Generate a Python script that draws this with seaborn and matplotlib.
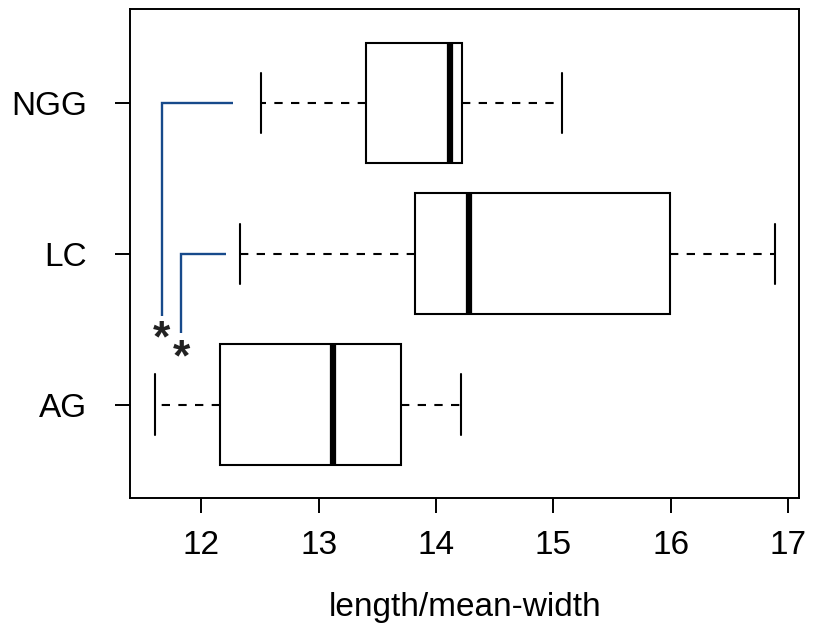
import matplotlib
matplotlib.use("Agg")
import matplotlib.pyplot as plt
import seaborn as sns
import pandas as pd

# Five-number summaries (min, Q1, median, Q3, max)
categories = ["NGG", "LC", "AG"]
ngg_values = [12.51, 13.40, 14.12, 14.22, 15.07]
lc_values = [12.33, 13.82, 14.28, 15.99, 16.89]
ag_values = [11.61, 12.16, 13.12, 13.70, 14.21]
x_ticks = [12, 13, 14, 15, 16, 17]
x_label = "length/mean-width"

# significance brackets
bracket_groups = ["NGG", "LC"]
bracket_x_start = [12.27, 12.21]
bracket_x_vert = [11.665, 11.83]
bracket_y_end = [1.41, 1.525]
star_y = [1.645, 1.775]
star_labels = ["*", "*"]

sns.set_theme(style="white")
plt.rcParams["font.family"] = ["Liberation Sans", "DejaVu Sans"]
plt.rcParams["text.color"] = "black"
plt.rcParams["axes.labelcolor"] = "black"
plt.rcParams["xtick.color"] = "black"
plt.rcParams["ytick.color"] = "black"

df = pd.DataFrame({
    "group": ["NGG"] * len(ngg_values) + ["LC"] * len(lc_values) + ["AG"] * len(ag_values),
    "value": ngg_values + lc_values + ag_values,
})

fig = plt.figure(figsize=(8.13, 6.30), dpi=100)
ax = fig.add_axes([0.160, 0.2095, 0.823, 0.7755])

sns.boxplot(
    data=df, x="value", y="group", order=categories, orient="h",
    whis=(0, 100), width=0.8, color="white", linecolor="black",
    linewidth=1.5, fliersize=0,
    boxprops=dict(facecolor="white", edgecolor="black", linewidth=1.5),
    medianprops=dict(color="black", linewidth=4.5, solid_capstyle="butt"),
    whiskerprops=dict(color="black", linewidth=1.5, linestyle=(0, (4, 4))),
    capprops=dict(color="black", linewidth=1.5),
    ax=ax,
)

pos = {c: i for i, c in enumerate(categories)}
blue = "#174a8b"
for g, xs, xv, ye in zip(bracket_groups, bracket_x_start, bracket_x_vert, bracket_y_end):
    y0 = pos[g]
    ax.plot([xs, xv, xv], [y0, y0, ye], color=blue, lw=1.7, solid_capstyle="butt",
            solid_joinstyle="miter")
for xv, sy, lab in zip(bracket_x_vert, star_y, star_labels):
    ax.text(xv, sy, lab, ha="center", va="baseline", fontsize=32, fontweight="bold",
            color="#222222")

ax.set_xlim(11.394, 17.094)
ax.set_ylim(2.62, -0.62)
ax.set_xticks(x_ticks)
ax.set_xticklabels([str(t) for t in x_ticks])
ax.set_xlabel(x_label, fontsize=24, labelpad=22)
ax.set_ylabel("")
ax.tick_params(axis="both", labelsize=24, length=11, width=1.4, color="black",
               labelcolor="black", direction="out", bottom=True, left=True)
ax.tick_params(axis="x", pad=12)
ax.tick_params(axis="y", pad=20)
for s in ax.spines.values():
    s.set_visible(True)
    s.set_color("black")
    s.set_linewidth(1.4)

fig.savefig("out.png", dpi=100, facecolor="white")
